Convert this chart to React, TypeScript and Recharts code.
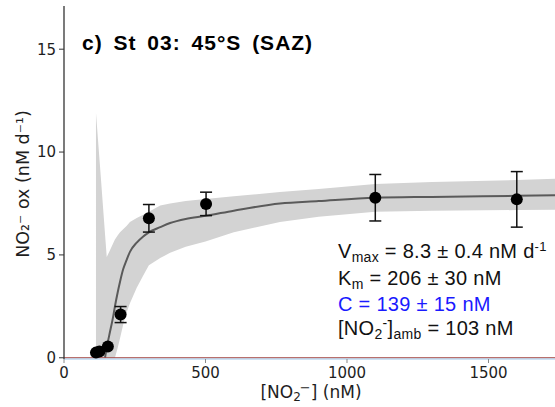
import React from 'react';
import { ComposedChart, XAxis, YAxis, Area, Line, Scatter, ErrorBar, ReferenceLine } from 'recharts';

// Observed nitrite oxidation rates
const obsNitrite = [113, 125, 155, 200, 300, 502, 1100, 1600];
const obsRate = [0.25, 0.3, 0.55, 2.1, 6.78, 7.48, 7.78, 7.7];
const obsErr = [0, 0, 0, 0.39, 0.67, 0.57, 1.13, 1.35];

// Fitted curve and its confidence band, read on one nitrite grid
const gridNitrite = [113, 130, 145, 151, 160, 175, 180, 190, 198, 209, 221, 233, 257, 280, 300, 340, 375, 430, 500, 600, 763, 900, 1100, 1300, 1600, 1735];
const fitRate = [null, null, 0, 0.5, 1.1, 2.1, 2.5, 3.2, 3.7, 4.3, 4.75, 5.15, 5.6, 5.9, 6.1, 6.35, 6.55, 6.75, 6.9, 7.15, 7.5, 7.62, 7.78, 7.82, 7.87, 7.9];
const bandHigh = [11.9, 8.8, 6.0, 4.9, 5.15, 5.6, 5.75, 5.95, 6.1, 6.25, 6.4, 6.6, 6.8, 6.95, 7.1, 7.4, 7.5, 7.62, 7.72, 7.85, 8.06, 8.2, 8.45, 8.55, 8.64, 8.7];
const bandLow = [0, 0, 0, 0, 0, 0, 0, 0.5, 0.95, 1.6, 2.2, 2.65, 3.4, 4.0, 4.5, 4.85, 5.1, 5.4, 5.65, 6.1, 6.6, 6.85, 7.1, 7.15, 7.18, 7.2];

const xTicks = [0, 500, 1000, 1500];
const yTicks = [0, 5, 10, 15];

const title = 'c) St 03: 45°S (SAZ)';

const gridTable = gridNitrite.map((x, i) => ({ x, fit: fitRate[i], low: bandLow[i], high: bandHigh[i] }));
const obsTable = obsNitrite.map((x, i) => ({ x, y: obsRate[i], err: obsErr[i] }));

const tickStyle = { fontFamily: 'DejaVu Sans', fontSize: 15, fill: '#1e1e1e' };

const Dot = (props: any) => {
  const { cx, cy } = props;
  if (cx == null || cy == null) return null;
  return <circle cx={cx} cy={cy} r={6} fill="#000" />;
};

export default function App() {
  return (
    <div style={{ position: 'absolute', left: 0, top: 0, width: 555, height: 407, background: '#fff' }}>
      <ComposedChart width={555} height={407} data={gridTable} margin={{ top: 6, right: 0, bottom: 0, left: 0 }}>
        <XAxis
          type="number"
          dataKey="x"
          domain={[0, 1735]}
          ticks={xTicks}
          allowDataOverflow
          height={48}
          tickSize={4}
          tickMargin={4}
          tick={tickStyle}
          axisLine={{ stroke: '#9cc6ea', strokeWidth: 1.2 }}
          tickLine={{ stroke: '#888' }}
        />
        <YAxis
          type="number"
          domain={[-0.06, 17.1]}
          ticks={yTicks}
          allowDataOverflow
          width={64}
          tickSize={5}
          tickMargin={3}
          tick={tickStyle}
          axisLine={{ stroke: '#333', strokeWidth: 1.3 }}
          tickLine={{ stroke: '#333' }}
        />
        <Area
          type="linear"
          dataKey={(d: any) => [d.low, d.high]}
          stroke="none"
          fill="#d3d3d3"
          fillOpacity={1}
          isAnimationActive={false}
        />
        <Line
          type="monotone"
          dataKey="fit"
          stroke="#5a5a5a"
          strokeWidth={2}
          dot={false}
          isAnimationActive={false}
        />
        <ReferenceLine y={0} stroke="#a0403c" strokeWidth={1.2} />
        <Scatter data={obsTable} dataKey="y" shape={<Dot />} isAnimationActive={false}>
          <ErrorBar dataKey="err" direction="y" width={6} stroke="#111" strokeWidth={1.5} />
        </Scatter>
      </ComposedChart>
      <svg width={555} height={407} style={{ position: 'absolute', left: 0, top: 0, pointerEvents: 'none' }}>
        <text x={82} y={50} fontFamily="Liberation Sans" fontWeight="bold" fontSize={21} letterSpacing={1} wordSpacing={4} fill="#000">
          {title}
        </text>
        <text
          x={23}
          y={184}
          transform="rotate(-90 23 184)"
          textAnchor="middle"
          dominantBaseline="central"
          fontFamily="DejaVu Sans"
          fontSize={17.5}
          fill="#1e1e1e"
        >
          NO₂⁻ ox (nM d⁻¹)
        </text>
        <text x={311} y={398} textAnchor="middle" fontFamily="DejaVu Sans" fontSize={17} fill="#1e1e1e">
          <tspan>[NO</tspan>
          <tspan fontSize={12} dy={3}>2</tspan>
          <tspan fontSize={13} dx={-1} dy={-9}>−</tspan>
          <tspan dy={6}>] (nM)</tspan>
        </text>
        <g fontFamily="Liberation Sans" fontSize={20} letterSpacing={0.3} fill="#111">
          <text x={338} y={258}>
            <tspan>V</tspan>
            <tspan fontSize={14} dy={4}>max</tspan>
            <tspan dy={-4}> = 8.3 ± 0.4 nM d</tspan>
            <tspan fontSize={13} dy={-7}>-1</tspan>
          </text>
          <text x={338} y={285}>
            <tspan>K</tspan>
            <tspan fontSize={14} dy={4}>m</tspan>
            <tspan dy={-4}> = 206 ± 30 nM</tspan>
          </text>
          <text x={338} y={311} fill="#1a1aff">
            C = 139 ± 15 nM
          </text>
          <text x={338} y={335}>
            <tspan>[NO</tspan>
            <tspan fontSize={14} dy={4}>2</tspan>
            <tspan fontSize={14} dy={-11}>-</tspan>
            <tspan dy={7}>]</tspan>
            <tspan fontSize={14} dy={4}>amb</tspan>
            <tspan dy={-4}> = 103 nM</tspan>
          </text>
        </g>
      </svg>
    </div>
  );
}
